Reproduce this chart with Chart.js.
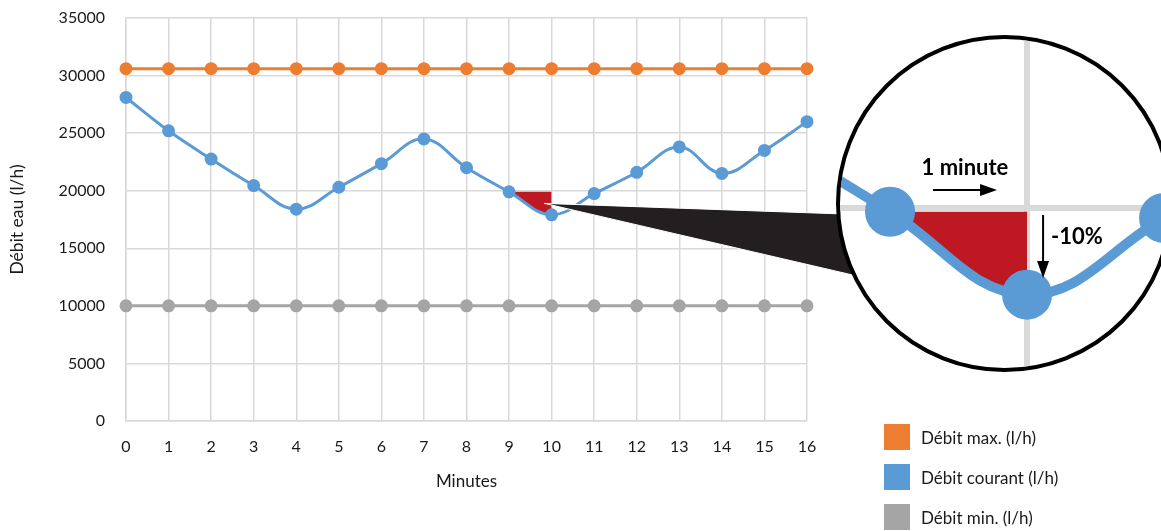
<!DOCTYPE html>
<html lang="fr">
<head>
<meta charset="utf-8">
<title>Débit eau</title>
<script src="https://cdn.jsdelivr.net/npm/chart.js@4.4.1/dist/chart.umd.min.js"></script>
<style>
  html, body { margin: 0; padding: 0; background: #fff; overflow: hidden; width: 1161px; height: 531px; }
  #wrap { position: relative; width: 1161px; height: 531px; }
  #main { position: absolute; left: 0; top: 0; }
  #lens { position: absolute; left: 836px; top: 35px; width: 337px; height: 337px; box-sizing: border-box;
          border: 4px solid #000; border-radius: 50%; overflow: hidden; background: #fff; }
  #zoom { position: absolute; left: 0; top: 0; }
  #legend { position: absolute; left: 884px; top: 424px; font-family: Lato, sans-serif; font-size: 17px; color: #1a1a1a; }
  .item { display: flex; align-items: center; height: 26px; margin-bottom: 14px; }
  .swatch { width: 26px; height: 26px; margin-right: 11px; flex: none; }
</style>
</head>
<body>
<div id="wrap">
  <canvas id="main" width="1161" height="531"></canvas>
  <div id="lens"><canvas id="zoom" width="329" height="329"></canvas></div>
  <div id="legend"></div>
</div>
<script>
// Minutes on the x axis
const minutes = ['0', '1', '2', '3', '4', '5', '6', '7', '8', '9', '10', '11', '12', '13', '14', '15', '16'];

// Flow rates in l/h
const debitMax = [30600, 30600, 30600, 30600, 30600, 30600, 30600, 30600, 30600, 30600, 30600, 30600, 30600, 30600, 30600, 30600, 30600];
const debitCourant = [28100, 25200, 22750, 20450, 18400, 20300, 22350, 24500, 22000, 19900, 17910, 19750, 21600, 23800, 21500, 23500, 26000];
const debitMin = [10000, 10000, 10000, 10000, 10000, 10000, 10000, 10000, 10000, 10000, 10000, 10000, 10000, 10000, 10000, 10000, 10000];

// Level held at minute 9 over the next minute: the area down to the curve is the -10 % drop
const baisse = [null, null, null, null, null, null, null, null, null, 19900, 19900, null, null, null, null, null, null];

// Y axis range and step
const yMin = 0, yMax = 35000, yStep = 5000;

const seriesNames = ['Débit max. (l/h)', 'Débit courant (l/h)', 'Débit min. (l/h)'];
const ORANGE = '#ed7d31', BLUE = '#5b9bd5', GREY = '#a5a5a5', RED = '#be1823', GRID = '#d9d9d9', INK = '#1a1a1a';
const FONT = 'Lato, sans-serif';

// Dark beam joining the drop on the chart to the magnifier
const beam = {
  id: 'beam',
  afterDatasetsDraw(chart) {
    const { ctx, scales: { x, y } } = chart;
    const ax = x.getPixelForValue(9.83), ay = y.getPixelForValue(18900);
    ctx.save();
    ctx.beginPath();
    ctx.moveTo(ax, ay);
    ctx.lineTo(900, 216);
    ctx.lineTo(900, 286);
    ctx.closePath();
    ctx.fillStyle = '#231f20';
    ctx.fill();
    ctx.strokeStyle = '#fff';
    ctx.lineWidth = 1;
    ctx.stroke();
    ctx.restore();
  }
};

const mainChart = new Chart(document.getElementById('main'), {
  type: 'line',
  data: {
    labels: minutes,
    datasets: [
      { label: seriesNames[0], data: debitMax, borderColor: ORANGE, backgroundColor: ORANGE, borderWidth: 3, pointRadius: 5, tension: 0 },
      { label: seriesNames[1], data: debitCourant, borderColor: BLUE, backgroundColor: BLUE, borderWidth: 3, pointRadius: 5, tension: 0.4 },
      { label: seriesNames[2], data: debitMin, borderColor: GREY, backgroundColor: GREY, borderWidth: 3, pointRadius: 5, tension: 0 },
      { label: 'baisse', data: baisse, borderWidth: 0, pointRadius: 0, backgroundColor: RED, fill: 1, spanGaps: false, tension: 0 }
    ]
  },
  options: {
    responsive: false,
    animation: false,
    events: [],
    layout: { autoPadding: false, padding: { top: 18, right: 354, left: 0, bottom: 0 } },
    plugins: { legend: { display: false }, tooltip: { enabled: false } },
    scales: {
      x: {
        type: 'category',
        grid: { color: GRID, lineWidth: 1.5, drawTicks: false },
        border: { color: GRID, width: 1.5 },
        ticks: { font: { family: FONT, size: 16 }, color: INK, padding: 16, maxRotation: 0, autoSkip: false },
        title: { display: true, text: 'Minutes', font: { family: FONT, size: 17 }, color: INK, padding: { top: 0, bottom: 39 } },
        afterFit(s) { s.height = 110; }
      },
      y: {
        min: yMin, max: yMax,
        grid: { color: GRID, lineWidth: 1.5, drawTicks: false },
        border: { color: GRID, width: 1.5 },
        ticks: { stepSize: yStep, font: { family: FONT, size: 16 }, color: INK, padding: 21, callback: v => String(v) },
        title: { display: true, text: 'Débit eau (l/h)', font: { family: FONT, size: 17.5 }, color: INK, padding: { top: 7, bottom: 0 } },
        afterFit(s) { s.width = 126; s.paddingTop = 0; s.paddingBottom = 0; }
      }
    }
  },
  plugins: [beam]
});

// Legend built from the chart's own series
const legend = document.getElementById('legend');
mainChart.data.datasets.slice(0, 3).forEach(ds => {
  const row = document.createElement('div');
  row.className = 'item';
  const sw = document.createElement('span');
  sw.className = 'swatch';
  sw.style.background = ds.borderColor;
  const tx = document.createElement('span');
  tx.textContent = ds.label;
  row.appendChild(sw);
  row.appendChild(tx);
  legend.appendChild(row);
});

// Magnified view of minutes 9 to 10
const asPoints = arr => arr.map((v, i) => ({ x: Number(minutes[i]), y: v }));

const notes = {
  id: 'notes',
  afterDatasetsDraw(chart) {
    const { ctx, scales: { x, y } } = chart;
    ctx.save();
    ctx.fillStyle = '#000';
    ctx.strokeStyle = '#000';
    ctx.font = 'bold 22px ' + FONT;
    ctx.textBaseline = 'alphabetic';
    ctx.textAlign = 'center';
    ctx.fillText('1 minute', x.getPixelForValue(9.547), y.getPixelForValue(20781));

    // horizontal arrow
    const hx0 = x.getPixelForValue(9.314), hx1 = x.getPixelForValue(9.781), hy = y.getPixelForValue(20421);
    ctx.lineWidth = 2;
    ctx.beginPath(); ctx.moveTo(hx0, hy); ctx.lineTo(hx1 - 14, hy); ctx.stroke();
    ctx.beginPath(); ctx.moveTo(hx1, hy); ctx.lineTo(hx1 - 17, hy - 6); ctx.lineTo(hx1 - 17, hy + 6); ctx.closePath(); ctx.fill();

    // vertical arrow
    const vx = x.getPixelForValue(10.117), vy0 = y.getPixelForValue(19821), vy1 = y.getPixelForValue(18309);
    ctx.beginPath(); ctx.moveTo(vx, vy0); ctx.lineTo(vx, vy1 - 14); ctx.stroke();
    ctx.beginPath(); ctx.moveTo(vx, vy1); ctx.lineTo(vx - 6, vy1 - 17); ctx.lineTo(vx + 6, vy1 - 17); ctx.closePath(); ctx.fill();

    ctx.textAlign = 'left';
    ctx.textBaseline = 'middle';
    ctx.fillText('-10%', x.getPixelForValue(10.175), y.getPixelForValue(19293));
    ctx.restore();
  }
};

new Chart(document.getElementById('zoom'), {
  type: 'line',
  data: {
    datasets: [
      { label: seriesNames[1], data: asPoints(debitCourant), borderColor: BLUE, backgroundColor: BLUE, borderWidth: 10, pointRadius: 20, tension: 0.4 },
      { label: 'baisse', data: asPoints(baisse), borderWidth: 0, pointRadius: 0, backgroundColor: RED, fill: 0, spanGaps: false, tension: 0 }
    ]
  },
  options: {
    responsive: false,
    animation: false,
    events: [],
    layout: { autoPadding: false, padding: 0 },
    plugins: { legend: { display: false }, tooltip: { enabled: false } },
    scales: {
      x: {
        type: 'linear', min: 8.635, max: 11.036,
        grid: { color: GRID, lineWidth: 6, drawTicks: false },
        border: { display: false },
        ticks: { display: false },
        afterBuildTicks(s) { s.ticks = [{ value: 10 }]; }
      },
      y: {
        min: 16149, max: 24045,
        grid: { color: GRID, lineWidth: 6, drawTicks: false },
        border: { display: false },
        ticks: { display: false },
        afterBuildTicks(s) { s.ticks = [{ value: 20000 }]; }
      }
    }
  },
  plugins: [notes]
});
</script>
</body>
</html>
